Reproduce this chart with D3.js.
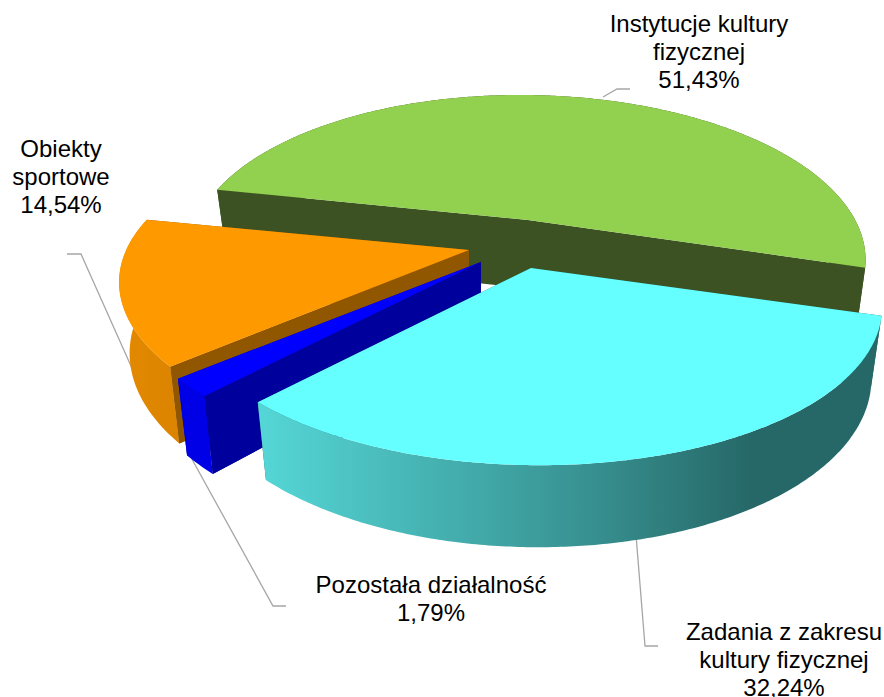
<!DOCTYPE html>
<html>
<head>
<meta charset="utf-8">
<script src="https://cdn.jsdelivr.net/npm/d3@7"></script>
<style>
html, body { margin: 0; padding: 0; background: #fff; overflow: hidden; }
text { font-family: "Liberation Sans", Arial, sans-serif; font-size: 24px; fill: #000; }
</style>
</head>
<body>
<div id="chart"></div>
<script>
// values
let categories = ["Instytucje kultury fizycznej", "Zadania z zakresu kultury fizycznej", "Pozostała działalność", "Obiekty sportowe"];
let values = [51.43, 32.24, 1.79, 14.54];
let valueLabels = ["51,43%", "32,24%", "1,79%", "14,54%"];
let labelLines = [["Instytucje kultury", "fizycznej"], ["Zadania z zakresu", "kultury fizycznej"], ["Pozostała działalność"], ["Obiekty", "sportowe"]];

let chartWidth = 884;
let chartHeight = 697;

// slice layout, same order as categories
let centers = [[528, 220], [531, 268], [481, 262], [469, 250]];
let radii = [329, 342, 346, 341];
let topColors = ["#92D050", "#66FFFF", "#0000FF", "#FF9900"];
let wallColors = ["#3C5222", "url(#cyanWall)", "#0000E6", "url(#orangeWall)"];
let faceColors = ["#3C5222", "#1F5F5F", "#00009C", "#915700"];
let labelPos = [[699, 32], [784, 640], [431, 593], [61, 157]];
let leaders = [
    [[603, 97], [617, 89], [630, 89]],
    [[636, 535], [645, 646], [658, 646]],
    [[188, 452], [273, 606], [286, 606]],
    [[135, 375], [81, 254], [67, 254]]
];

// tilted disc with perspective, front of the disc comes nearer
let tiltTop = 153;
let tiltBottom = 163.5;
let persp = 0.224;
let dropCenter = 68.5;
let shrinkBottom = 0.97;
let roll = 0.011;

let svg = d3.select("#chart")
    .append("svg")
    .attr("width", chartWidth)
    .attr("height", chartHeight);

let defs = svg.append("defs");
let cyanGrad = defs.append("linearGradient")
    .attr("id", "cyanWall")
    .attr("gradientUnits", "userSpaceOnUse")
    .attr("x1", 260).attr("x2", 880).attr("y1", 0).attr("y2", 0);
cyanGrad.append("stop").attr("offset", "0").attr("stop-color", "#55D6D6");
cyanGrad.append("stop").attr("offset", "0.5").attr("stop-color", "#3A9595");
cyanGrad.append("stop").attr("offset", "0.8").attr("stop-color", "#266767");
cyanGrad.append("stop").attr("offset", "1").attr("stop-color", "#266767");

let orangeGrad = defs.append("linearGradient")
    .attr("id", "orangeWall")
    .attr("gradientUnits", "userSpaceOnUse")
    .attr("x1", 120).attr("x2", 180).attr("y1", 0).attr("y2", 0);
orangeGrad.append("stop").attr("offset", "0").attr("stop-color", "#E48900");
orangeGrad.append("stop").attr("offset", "1").attr("stop-color", "#DB8400");

let pie = d3.pie()
    .sort(null)
    .startAngle(-79.5 * Math.PI / 180)
    .endAngle(280.5 * Math.PI / 180);

let slices = pie(values);
let path = d3.line().x(d => d[0]).y(d => d[1]);

// angle is clockwise from the top of the disc
function onTop(c, r, a) {
    let X = r * Math.sin(a);
    let Y = -Math.cos(a);
    let w = 1 - Y * persp;
    return [c[0] + X / w, c[1] + (tiltTop * Y + roll * X) / w];
}

function onBottom(c, r, a) {
    let X = r * Math.sin(a);
    let Y = -Math.cos(a);
    let w = 1 - Y * persp;
    return [c[0] + shrinkBottom * X / w, c[1] + dropCenter + (tiltBottom * Y + roll * X) / w];
}

function arcAngles(s) {
    let n = Math.ceil((s.endAngle - s.startAngle) / 0.01);
    return d3.range(n + 1).map(i => s.startAngle + (s.endAngle - s.startAngle) * i / n);
}

// leader lines sit behind the pie
svg.append("g")
    .selectAll("path")
    .data(leaders)
    .enter()
    .append("path")
    .attr("d", d => path(d))
    .style("fill", "none")
    .style("stroke", "#A6A6A6")
    .style("stroke-width", 1.3);

// back to front: green, orange, blue, cyan
let drawOrder = [0, 3, 2, 1];

drawOrder.forEach(function(i) {
    let s = slices[i];
    let c = centers[i];
    let r = radii[i];
    let g = svg.append("g");
    let apexBottom = [c[0], c[1] + dropCenter];

    // flat side faces
    [s.startAngle, s.endAngle].forEach(function(a) {
        g.append("path")
            .attr("d", path([c, onTop(c, r, a), onBottom(c, r, a), apexBottom]) + "Z")
            .style("fill", faceColors[i]);
    });

    // only the part of the rim that faces us is drawn, the rest is under the top
    let rim = arcAngles(s);
    let rimTop = rim.map(a => onTop(c, r, a));
    let rimBottom = rim.map(a => onBottom(c, r, a)).reverse();
    g.append("path")
        .attr("d", path(rimTop.concat(rimBottom)) + "Z")
        .style("fill", wallColors[i]);

    // the nearest side face goes over the rim for the exploded wedges
    if (i == 2 || i == 3) {
        g.append("path")
            .attr("d", path([c, onTop(c, r, s.startAngle), onBottom(c, r, s.startAngle), apexBottom]) + "Z")
            .style("fill", faceColors[i]);
    }

    g.append("path")
        .attr("d", path([c].concat(rimTop)) + "Z")
        .style("fill", topColors[i]);
});

let labels = svg.append("g");
categories.forEach(function(name, i) {
    let rows = labelLines[i].concat([valueLabels[i]]);
    rows.forEach(function(row, j) {
        labels.append("text")
            .attr("x", labelPos[i][0])
            .attr("y", labelPos[i][1] + j * 28.2)
            .style("text-anchor", "middle")
            .text(row);
    });
});
</script>
</body>
</html>
